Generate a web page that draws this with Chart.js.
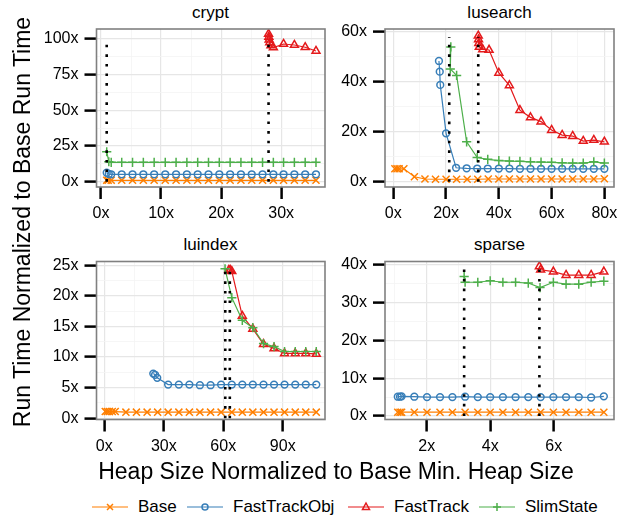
<!DOCTYPE html>
<html>
<head>
<meta charset="utf-8">
<script src="https://cdn.jsdelivr.net/npm/chart.js@4.4.0/dist/chart.umd.min.js"></script>
<style>
  body { margin: 0; width: 623px; height: 518px; overflow: hidden; background: #fff; position: relative;
         font-family: "Liberation Sans", Arial, sans-serif; color: #000; }
  canvas { position: absolute; }
  .ptitle { position: absolute; font-size: 17px; line-height: 20px; text-align: center; }
  .axtitle { position: absolute; font-size: 23px; line-height: 28px; text-align: center; white-space: nowrap; }
  .litem { position: absolute; top: 497px; height: 20px; display: flex; align-items: center; font-size: 17px; }
  .litem svg { margin-right: 10px; }
</style>
</head>
<body>
<div class="ptitle" style="left:96px; top:3px; width:229px;">crypt</div>
<div class="ptitle" style="left:385px; top:3px; width:229px;">lusearch</div>
<div class="ptitle" style="left:96px; top:235px; width:229px;">luindex</div>
<div class="ptitle" style="left:385px; top:235px; width:229px;">sparse</div>
<canvas id="crypt" width="320" height="220" style="left:30px; top:10px;"></canvas>
<canvas id="lusearch" width="294" height="220" style="left:335px; top:10px;"></canvas>
<canvas id="luindex" width="320" height="219" style="left:30px; top:241px;"></canvas>
<canvas id="sparse" width="294" height="219" style="left:335px; top:241px;"></canvas>
<div class="axtitle" style="left:-208px; top:208px; width:460px; transform:rotate(-90deg);">Run Time Normalized to Base Run Time</div>
<div class="axtitle" style="left:86px; top:457px; width:500px;">Heap Size Normalized to Base Min. Heap Size</div>
<div id="legend"></div>
<script>
// series names, legend order
const SERIES = ["Base", "FastTrackObj", "FastTrack", "SlimState"];

// [heap size, run time]
const cryptBase = [[0.95,1],[1.2,1],[1.7,1],[3.45,1],[5.25,1],[7.05,1],[8.85,1],[10.7,1],[12.5,1],[14.3,1],[16.1,1],[17.9,1],[19.7,1],[21.5,1],[23.3,1],[25.1,1],[26.9,1],[28.7,1],[30.4,1],[32.2,1],[34.0,1],[35.8,1]];
const cryptFastTrackObj = [[0.95,6.3],[1.3,5.4],[1.7,5.2],[3.45,5.2],[5.25,5.2],[7.05,5.2],[8.85,5.2],[10.7,5.2],[12.5,5.2],[14.3,5.2],[16.1,5.2],[17.9,5.2],[19.7,5.2],[21.5,5.2],[23.3,5.2],[25.1,5.2],[26.9,5.2],[28.7,5.2],[30.4,5.2],[32.2,5.2],[34.0,5.2],[35.8,5.2]];
const cryptFastTrack = [[27.9,103.5],[27.95,101.5],[28.0,99.5],[28.1,97.5],[28.3,95.5],[28.7,94],[30.4,96.5],[32.2,95.8],[34.0,94.2],[35.8,91.6]];
const cryptSlimState = [[0.95,21],[1.3,14],[1.7,13.6],[3.45,13.6],[5.25,13.6],[7.05,13.6],[8.85,13.6],[10.7,13.6],[12.5,13.6],[14.3,13.6],[16.1,13.6],[17.9,13.6],[19.7,13.6],[21.5,13.6],[23.3,13.6],[25.1,13.6],[26.9,13.6],[28.7,13.6],[30.4,13.6],[32.2,13.6],[34.0,13.6],[35.8,13.6]];
const cryptMinHeap = [0.95, 27.9];
const cryptMinTop = 100.5;

const lusearchBase = [[0.6,5.2],[1.4,5.2],[2.2,5.2],[4.0,5.2],[8,2],[12,1.1],[16,1],[20,1],[24,1],[28,1],[32,1],[36,1.1],[40,1.1],[44,1.1],[48,1.1],[52,1.1],[56,1.1],[60,1.1],[64,1.1],[68,1.1],[72,1.1],[76,1.1],[80,1.2]];
const lusearchFastTrackObj = [[17.3,48.4],[17.6,44.1],[17.8,38.8],[20.0,19.4],[23.8,5.6],[27.8,5.4],[31.8,5.3],[35.8,5.3],[40,5.3],[44,5.3],[48,5.2],[52,5.2],[56,5.2],[60,5.2],[64,5.2],[68,5.2],[72,5.2],[76,5.2],[80,5.2]];
const lusearchFastTrack = [[32.2,58.5],[32.3,57],[32.4,55.5],[32.6,54],[33.9,53],[36.3,52.8],[40,43.6],[44,38.6],[48,28.7],[52,25.8],[56,24.1],[60,20.7],[64,18.7],[68,18.3],[72,16.3],[76,16.7],[80,16]];
const lusearchSlimState = [[21.8,54],[21.6,45.2],[24,42.6],[27.8,16],[31.8,9.7],[35.8,9.0],[40,8.5],[44,8.3],[48,8.2],[52,8.0],[56,7.9],[60,7.8],[64,7.6],[68,7.5],[72,7.5],[76,8.0],[80,7.5]];
const lusearchMinHeap = [21.2, 32.2];
const lusearchMinTop = 58;

const luindexBase = [[0.5,1.1],[1.5,1.1],[2.5,1.1],[4.0,1.1],[5.5,1.1],[10.9,1],[16.2,1],[21.6,1],[26.9,1],[32.2,1],[37.6,1],[42.9,1],[48.2,1],[53.6,1],[58.9,1],[64.3,1],[69.6,1],[74.9,1],[80.3,1],[85.6,1],[90.9,1],[96.3,1],[101.6,1],[106.9,1]];
const luindexFastTrackObj = [[24.7,7.3],[25.6,7.1],[26.7,6.6],[32.2,5.5],[37.6,5.5],[42.9,5.5],[48.2,5.4],[53.6,5.4],[58.9,5.5],[64.3,5.5],[69.6,5.5],[74.9,5.5],[80.3,5.5],[85.6,5.5],[90.9,5.5],[96.3,5.5],[101.6,5.5],[106.9,5.5]];
const luindexFastTrack = [[62.8,24.2],[63.5,24.2],[64.3,24.0],[69.6,16.7],[74.9,14.6],[80.3,12.1],[85.6,11.4],[90.9,10.6],[96.3,10.6],[101.6,10.6],[106.9,10.5]];
const luindexSlimState = [[60.9,24.4],[64.3,19.7],[69.6,16.0],[74.9,14.8],[80.3,12.2],[85.6,11.7],[90.9,10.9],[96.3,10.9],[101.6,10.9],[106.9,10.9]];
const luindexMinHeap = [61.0, 63.3];
const luindexMinTop = 24.3;

const sparseBase = [[1.09,1],[1.16,1],[1.21,1],[1.61,1],[2.01,1],[2.42,1],[2.81,1],[3.21,1],[3.61,1],[4.0,1],[4.4,1],[4.8,1],[5.2,1],[5.59,1],[5.99,1],[6.39,1],[6.79,1],[7.18,1],[7.58,1]];
const sparseFastTrackObj = [[1.09,5.1],[1.16,5.1],[1.21,5.2],[1.61,5.1],[2.01,5.0],[2.42,5.0],[2.81,5.0],[3.21,5.1],[3.61,5.0],[4.0,5.0],[4.4,5.0],[4.8,5.0],[5.2,5.0],[5.59,5.0],[5.99,5.0],[6.39,5.0],[6.79,5.0],[7.18,4.9],[7.58,5.2]];
const sparseFastTrack = [[5.55,39.6],[5.59,38.7],[5.99,38.2],[6.39,37.3],[6.79,37.3],[7.18,37.3],[7.58,38.2]];
const sparseSlimState = [[3.18,36.9],[3.21,35.4],[3.61,35.4],[4.0,35.8],[4.4,35.4],[4.8,35.4],[5.2,35.2],[5.57,34.0],[5.99,35.4],[6.39,34.9],[6.79,34.9],[7.18,35.4],[7.58,35.7]];
const sparseMinHeap = [3.18, 5.55];
const sparseMinTop = 39;

// tick labels (major) and minor grid positions
const cryptXTicks = [0, 10, 20, 30], cryptXMinor = [5, 15, 25, 35];
const cryptYTicks = [0, 25, 50, 75, 100], cryptYMinor = [12.5, 37.5, 62.5, 87.5];
const lusearchXTicks = [0, 20, 40, 60, 80], lusearchXMinor = [10, 30, 50, 70];
const lusearchYTicks = [0, 20, 40, 60], lusearchYMinor = [10, 30, 50];
const luindexXTicks = [0, 30, 60, 90], luindexXMinor = [15, 45, 75, 105];
const luindexYTicks = [0, 5, 10, 15, 20, 25], luindexYMinor = [2.5, 7.5, 12.5, 17.5, 22.5];
const sparseXTicks = [2, 4, 6], sparseXMinor = [1, 3, 5, 7];
const sparseYTicks = [0, 10, 20, 30, 40], sparseYMinor = [5, 15, 25, 35];

// styles
const COLORS = ["#ff7f00", "#377eb8", "#e41a1c", "#4daf4a"];
const POINT_STYLES = ["crossRot", "circle", "triangle", "cross"];
const POINT_RADII = [5, 3.4, 4.6, 4.6];
const DRAW_ORDER = [4, 3, 2, 1];
const FONT = "'Liberation Sans', Arial, sans-serif";

const panels = [
  { id: "crypt", series: [cryptBase, cryptFastTrackObj, cryptFastTrack, cryptSlimState], minHeap: cryptMinHeap, minTop: cryptMinTop,
    x: [-0.75, 37.3], y: [-3.7, 107], xTicks: cryptXTicks, xMinor: cryptXMinor, yTicks: cryptYTicks, yMinor: cryptYMinor,
    yW: 66.5, xH: 43, padT: 19, padR: 25 },
  { id: "lusearch", series: [lusearchBase, lusearchFastTrackObj, lusearchFastTrack, lusearchSlimState], minHeap: lusearchMinHeap, minTop: lusearchMinTop,
    x: [-3.15, 83.66], y: [-2.1, 61.2], xTicks: lusearchXTicks, xMinor: lusearchXMinor, yTicks: lusearchYTicks, yMinor: lusearchYMinor,
    yW: 50, xH: 43, padT: 19, padR: 15 },
  { id: "luindex", series: [luindexBase, luindexFastTrackObj, luindexFastTrack, luindexSlimState], minHeap: luindexMinHeap, minTop: luindexMinTop,
    x: [-3.93, 111.3], y: [-0.2, 25.6], xTicks: luindexXTicks, xMinor: luindexXMinor, yTicks: luindexYTicks, yMinor: luindexYMinor,
    yW: 66.5, xH: 40.5, padT: 20.5, padR: 25 },
  { id: "sparse", series: [sparseBase, sparseFastTrackObj, sparseFastTrack, sparseSlimState], minHeap: sparseMinHeap, minTop: sparseMinTop,
    x: [0.687, 7.9], y: [-0.93, 40.9], xTicks: sparseXTicks, xMinor: sparseXMinor, yTicks: sparseYTicks, yMinor: sparseYMinor,
    yW: 50, xH: 40.5, padT: 20.5, padR: 15 },
];

const panelBorder = {
  id: "panelBorder",
  afterDatasetsDraw(chart) {
    const a = chart.chartArea;
    const ctx = chart.ctx;
    ctx.save();
    ctx.strokeStyle = "#808080";
    ctx.lineWidth = 1.6;
    ctx.strokeRect(a.left, a.top, a.right - a.left, a.bottom - a.top);
    ctx.restore();
  },
};

function tickList(major, minor) {
  return major.map((v) => ({ value: v }))
    .concat(minor.map((v) => ({ value: v, minor: true })))
    .sort((a, b) => a.value - b.value);
}

function axis(range, major, minor, fit, pad) {
  return {
    type: "linear",
    min: range[0],
    max: range[1],
    afterBuildTicks: (s) => { s.ticks = tickList(major, minor); },
    afterFit: fit,
    border: { display: false },
    grid: {
      color: (c) => (c.tick && c.tick.minor ? "#f4f4f4" : "#e6e6e6"),
      lineWidth: (c) => (c.tick && c.tick.minor ? 0.8 : 1.2),
      tickLength: 12,
      tickWidth: 2.5,
      tickColor: (c) => (c.tick && c.tick.minor ? "rgba(0,0,0,0)" : "#000"),
    },
    ticks: {
      autoSkip: false,
      maxRotation: 0,
      padding: pad,
      color: "#000",
      font: { family: FONT, size: 16 },
      callback: (v, i, t) => (t[i].minor ? "" : v + "x"),
    },
  };
}

function renderPanel(p) {
  const datasets = [];
  p.minHeap.forEach((h) => {
    datasets.push({
      label: "min heap",
      data: [{ x: h, y: 0 }, { x: h, y: p.minTop }],
      showLine: true,
      borderColor: "#000",
      borderWidth: 2.6,
      borderDash: [2.6, 7],
      pointRadius: 0,
      order: 0,
    });
  });
  SERIES.forEach((name, i) => {
    datasets.push({
      label: name,
      data: p.series[i].map(([x, y]) => ({ x, y })),
      showLine: true,
      borderColor: COLORS[i],
      backgroundColor: "rgba(0,0,0,0)",
      borderWidth: 1.2,
      pointStyle: POINT_STYLES[i],
      pointRadius: POINT_RADII[i],
      pointBorderWidth: 1.5,
      pointBorderColor: COLORS[i],
      pointBackgroundColor: "rgba(0,0,0,0)",
      order: DRAW_ORDER[i],
    });
  });
  new Chart(document.getElementById(p.id), {
    type: "scatter",
    data: { datasets },
    options: {
      responsive: false,
      animation: false,
      layout: { padding: { left: 0, right: p.padR, top: p.padT, bottom: 0 } },
      plugins: { legend: { display: false }, tooltip: { enabled: false } },
      scales: {
        x: axis(p.x, p.xTicks, p.xMinor, (s) => { s.height = p.xH; }, 5),
        y: axis(p.y, p.yTicks, p.yMinor, (s) => { s.width = p.yW; }, 6),
      },
    },
    plugins: [panelBorder],
  });
}

panels.forEach(renderPanel);

// legend
const LEGEND_LEFT = [92, 187, 348, 479];
const ICONS = [
  '<path d="M15 4 L21 10 M21 4 L15 10" stroke-width="1.5"/>',
  '<circle cx="18" cy="7" r="3" fill="none" stroke-width="1.5"/>',
  '<path d="M18 3 L21.5 9.5 L14.5 9.5 Z" fill="none" stroke-width="1.5"/>',
  '<path d="M18 3 L18 11 M14 7 L22 7" stroke-width="1.5"/>',
];
const legend = document.getElementById("legend");
SERIES.forEach((name, i) => {
  const item = document.createElement("div");
  item.className = "litem";
  item.style.left = LEGEND_LEFT[i] + "px";
  item.innerHTML = `<svg width="36" height="14" stroke="${COLORS[i]}"><line x1="0" y1="7" x2="36" y2="7" stroke-width="1.2"/>${ICONS[i]}</svg><span>${name}</span>`;
  legend.appendChild(item);
});
</script>
</body>
</html>
